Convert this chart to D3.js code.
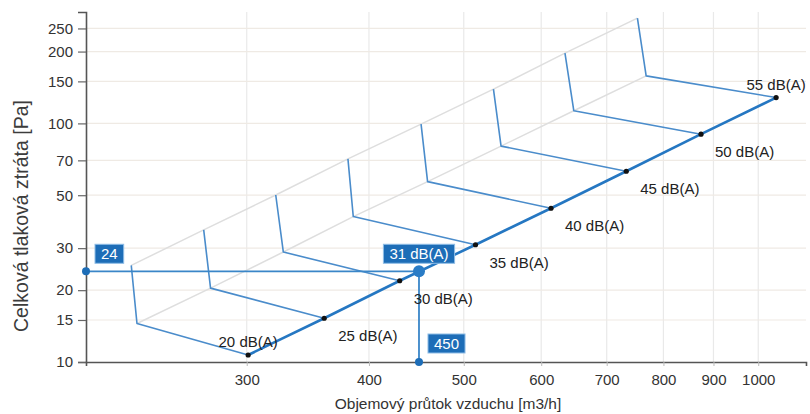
<!DOCTYPE html>
<html>
<head>
<meta charset="utf-8">
<script src="https://cdn.jsdelivr.net/npm/d3@7"></script>
<style>
  html, body { margin: 0; padding: 0; background: #fff; }
  svg { display: block; font-family: "Liberation Sans", Arial, sans-serif; }
</style>
</head>
<body>
<svg id="chart" width="810" height="414"></svg>
<script>
// Noise levels of the fan characteristic
const levels = ["20 dB(A)", "25 dB(A)", "30 dB(A)", "35 dB(A)", "40 dB(A)", "45 dB(A)", "50 dB(A)", "55 dB(A)"];
// Working points on the characteristic (flow m3/h, pressure Pa)
const flow = [301, 360, 430, 514, 614, 733, 874, 1043];
const pressure = [10.7, 15.25, 21.9, 31.0, 44.1, 63.0, 90.1, 128.3];
// Depth projection of each level: bend point and top end
const bendFlow = [231.7, 275.5, 327, 385.5, 459.2, 545.9, 647.8, 768.1];
const bendPressure = [14.5, 20.4, 28.9, 40.7, 57.0, 80.3, 113.0, 158.2];
const topFlow = [228.6, 271.1, 321.2, 380.7, 452.2, 536.2, 634.5, 752.5];
const topPressure = [25.4, 35.8, 50.1, 71.0, 99.3, 139.1, 197.0, 276.2];
// Selected operating point
const operatingFlow = 450;
const operatingPressure = 24;
const operatingLevel = "31 dB(A)";
// Axis ticks
const xTicks = [300, 400, 500, 600, 700, 800, 900, 1000];
const yTicks = [10, 15, 20, 30, 50, 70, 100, 150, 200, 250];

(function draw() {
  const svg = d3.select("#chart");
  const mLeft = 86, mRight = 806, mTop = 12, mBottom = 362;

  const x = d3.scaleLog().domain([205.5, 1119]).range([mLeft, mRight]);
  const y = d3.scaleLog().domain([10, 293]).range([mBottom, mTop]);

  const blue = "#2577c2";
  const branchBlue = "#4a8ccb";
  const boxBlue = "#1d6db7";

  // Grid
  const grid = svg.append("g");
  grid.selectAll("line.v").data(xTicks).join("line").attr("class", "v")
    .attr("x1", d => x(d)).attr("x2", d => x(d))
    .attr("y1", mTop).attr("y2", mBottom)
    .attr("stroke", "#e9e9e9").attr("stroke-width", 1.2);
  grid.selectAll("line.h").data(yTicks.slice(1)).join("line").attr("class", "h")
    .attr("x1", mLeft).attr("x2", mRight)
    .attr("y1", d => y(d)).attr("y2", d => y(d))
    .attr("stroke", "#efeae4").attr("stroke-width", 1.2);

  // Axes
  const yAxis = d3.axisLeft(y).tickValues(yTicks).tickFormat(d3.format("d")).tickSize(8).tickPadding(5);
  const yg = svg.append("g").attr("transform", `translate(${mLeft},0)`).call(yAxis);
  yg.select(".domain").attr("stroke", "#555").attr("stroke-width", 1.6);
  yg.selectAll(".tick line").attr("stroke", "#666").attr("stroke-width", 1.2);
  yg.selectAll(".tick text").attr("font-size", 15).attr("fill", "#333")
    .attr("font-family", "Liberation Sans, Arial, sans-serif");

  const xAxis = d3.axisBottom(x).tickValues(xTicks).tickFormat(d3.format("d")).tickSize(4).tickPadding(8);
  const xg = svg.append("g").attr("transform", `translate(0,${mBottom})`).call(xAxis);
  xg.select(".domain").attr("stroke", "#555").attr("stroke-width", 1.6);
  xg.selectAll(".tick line").attr("stroke", "#bbb");
  xg.selectAll(".tick text").attr("font-size", 15).attr("fill", "#333")
    .attr("font-family", "Liberation Sans, Arial, sans-serif");

  // Axis titles
  svg.append("text")
    .attr("x", 448).attr("y", 409)
    .attr("text-anchor", "middle").attr("font-size", 15.5).attr("fill", "#333")
    .text("Objemový průtok vzduchu [m3/h]");
  svg.append("text")
    .attr("transform", "translate(28,216) rotate(-90)")
    .attr("text-anchor", "middle").attr("font-size", 19.5).attr("fill", "#3c3c3c")
    .text("Celková tlaková ztráta [Pa]");

  // Back plane outline (through bends and through top ends)
  const line = d3.line().x(d => x(d[0])).y(d => y(d[1]));
  const bends = bendFlow.map((f, i) => [f, bendPressure[i]]);
  const tops = topFlow.map((f, i) => [f, topPressure[i]]);
  svg.append("path").datum(bends).attr("d", line)
    .attr("fill", "none").attr("stroke", "#dedede").attr("stroke-width", 1.5);
  svg.append("path").datum(tops).attr("d", line)
    .attr("fill", "none").attr("stroke", "#dedede").attr("stroke-width", 1.5);

  // Branches for each level
  levels.forEach((lv, i) => {
    svg.append("path")
      .datum([[flow[i], pressure[i]], [bendFlow[i], bendPressure[i]], [topFlow[i], topPressure[i]]])
      .attr("d", line)
      .attr("fill", "none").attr("stroke", branchBlue).attr("stroke-width", 1.6)
      .attr("stroke-linejoin", "round");
  });

  // Operating point crosshair
  svg.append("line")
    .attr("x1", x.range()[0]).attr("x2", x(operatingFlow))
    .attr("y1", y(operatingPressure)).attr("y2", y(operatingPressure))
    .attr("stroke", "#3a86c8").attr("stroke-width", 1.8);
  svg.append("line")
    .attr("x1", x(operatingFlow)).attr("x2", x(operatingFlow))
    .attr("y1", y(operatingPressure)).attr("y2", y.range()[0])
    .attr("stroke", "#3a86c8").attr("stroke-width", 1.8);

  // Main characteristic
  const pts = flow.map((f, i) => [f, pressure[i]]);
  svg.append("path").datum(pts).attr("d", line)
    .attr("fill", "none").attr("stroke", blue).attr("stroke-width", 2.6);

  svg.selectAll("circle.pt").data(pts).join("circle").attr("class", "pt")
    .attr("cx", d => x(d[0])).attr("cy", d => y(d[1])).attr("r", 2.6)
    .attr("fill", "#111");

  // Level labels
  const ends = i => i === 0 || i === levels.length - 1;
  svg.selectAll("text.lv").data(levels).join("text").attr("class", "lv")
    .attr("x", (d, i) => ends(i) ? x(flow[i]) : x(flow[i]) + 14)
    .attr("y", (d, i) => ends(i) ? y(pressure[i]) - 8 : y(pressure[i]) + 23)
    .attr("text-anchor", (d, i) => ends(i) ? "middle" : "start")
    .attr("font-size", 15).attr("fill", "#222")
    .text(d => d);

  // Operating point markers
  svg.append("circle").attr("cx", x.range()[0]).attr("cy", y(operatingPressure)).attr("r", 4).attr("fill", boxBlue);
  svg.append("circle").attr("cx", x(operatingFlow)).attr("cy", y.range()[0]).attr("r", 4).attr("fill", boxBlue);
  svg.append("circle").attr("cx", x(operatingFlow)).attr("cy", y(operatingPressure)).attr("r", 6).attr("fill", "#2a7cc6");

  // Value badges
  function badge(text, cx, bottomY, anchor) {
    const g = svg.append("g");
    const t = g.append("text").attr("font-size", 15).attr("fill", "#fff").text(text);
    const w = t.node().getComputedTextLength() + 12;
    const h = 19;
    const x0 = anchor === "middle" ? cx - w / 2 : cx;
    g.insert("rect", "text")
      .attr("x", x0).attr("y", bottomY - h).attr("width", w).attr("height", h)
      .attr("fill", boxBlue).attr("stroke", "#8fbde6").attr("stroke-width", 1);
    t.attr("x", x0 + w / 2).attr("y", bottomY - 4.5).attr("text-anchor", "middle");
  }
  badge(String(operatingPressure), x.range()[0] + 9, y(operatingPressure) - 8, "start");
  badge(operatingLevel, x(operatingFlow), y(operatingPressure) - 8, "middle");
  badge(String(operatingFlow), x(operatingFlow) + 9, y.range()[0] - 9, "start");
})();
</script>
</body>
</html>
